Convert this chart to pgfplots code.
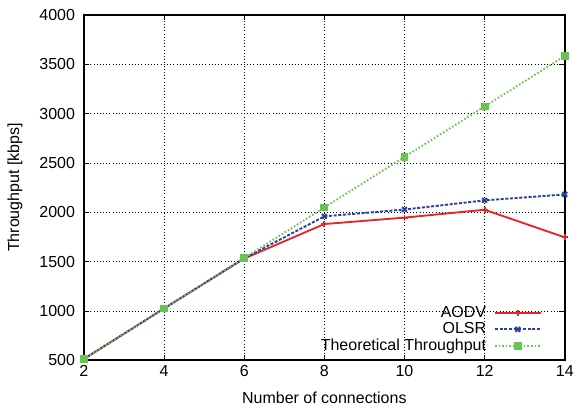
\documentclass[border=0pt]{standalone}
\usepackage{fontspec}
\setmainfont{Liberation Sans}
\usepackage{pgfplots}
\pgfplotsset{compat=1.18}
\pgfplotsset{layers/mylayers/.define layer set={axis background,axis grid,legendbg,axis ticks,axis lines,axis tick labels,pre main,main,axis descriptions,axis foreground}{}}
\definecolor{cA}{RGB}{228,38,38}
\definecolor{cO}{RGB}{40,62,160}
\definecolor{cT}{RGB}{102,196,80}
\begin{document}
\fontsize{12}{14}\selectfont
\begin{tikzpicture}
\begin{axis}[
  name=ax, set layers=mylayers,
  scale only axis, width=361pt, height=259.2pt,
  xmin=2, xmax=14, ymin=500, ymax=4000,
  xtick={2,4,...,14}, ytick={500,1000,...,4000},
  /pgf/number format/assume math mode=true,
  /pgf/number format/set thousands separator={},
  tick label style={font=\fontsize{12}{14}\selectfont},
  yticklabel style={xshift=-2.5pt},
  label style={font=\fontsize{12}{14}\selectfont},
  xlabel={Number of connections}, ylabel={Throughput [kbps]},
  xlabel style={at={(axis description cs:0.5,-0.110)}, anchor=center},
  ylabel style={at={(axis description cs:-0.1435,0.5)}, anchor=center},
  axis line style={line width=1.1pt, black},
  tick style={black, thin},
  tick align=inside, major tick length=4pt,
  grid=major, major grid style={dotted, black, thin},
  legend style={draw=none, fill=none, at={(0.952,0.012)}, anchor=south east,
    font=\fontsize{12}{14}\selectfont, row sep=-1.8pt, inner sep=0pt, column sep=4pt},
  legend cell align=right,
  legend plot pos=right,
  legend image code/.code={\draw[mark repeat=2,mark phase=2] plot coordinates {(0cm,0cm)(0.6cm,0cm)(1.2cm,0cm)};},
]
\begin{pgfonlayer}{legendbg}
\fill[white] (axis cs:6.57,500) rectangle (axis cs:14,1066);
\end{pgfonlayer}
\addplot[cA, line width=1.4pt, mark=+, mark size=2.3pt, mark options={solid, line width=1.4pt}] coordinates {
(2,512) (4,1024) (6,1530) (8,1880) (10,1945) (12,2025) (14,1745)};
\addlegendentry{AODV}
\addplot[cO, line width=1.4pt, dash pattern=on 2.3pt off 1.2pt, mark=x, mark size=2.5pt, mark options={solid, line width=1.5pt}] coordinates {
(2,512) (4,1024) (6,1533) (8,1958) (10,2027) (12,2120) (14,2180)};
\addlegendentry{OLSR}
\addplot[cT, line width=1.4pt, dash pattern=on 1.2pt off 1.5pt, mark=square*, mark size=2.2pt, mark options={solid}] coordinates {
(2,512) (4,1024) (6,1536) (8,2048) (10,2560) (12,3072) (14,3584)};
\addlegendentry{Theoretical Throughput}
\end{axis}
\path ([xshift=-63pt,yshift=-39pt]ax.south west) rectangle ([xshift=9.7pt,yshift=11.2pt]ax.north east);
\end{tikzpicture}
\end{document}
